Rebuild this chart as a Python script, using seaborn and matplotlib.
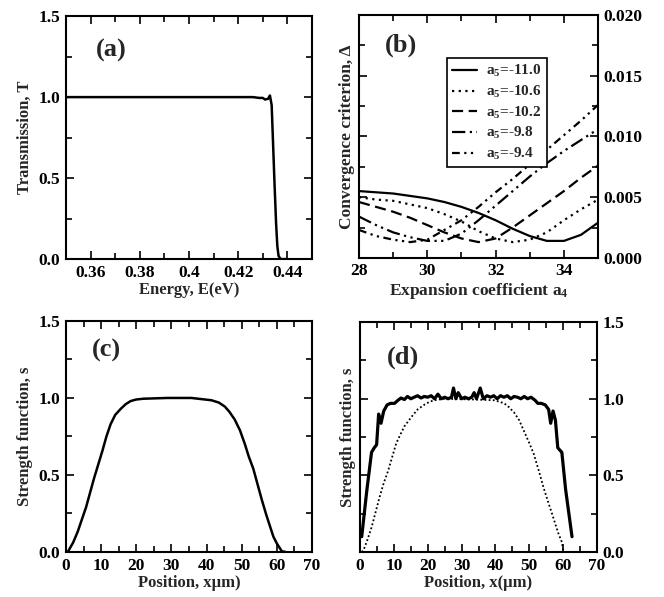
import matplotlib
matplotlib.use("Agg")
import matplotlib.pyplot as plt
from matplotlib.ticker import MultipleLocator, FuncFormatter
import seaborn as sns

# (a) transmission vs energy
energy_a = [0.350, 0.380, 0.410, 0.420, 0.426, 0.4285, 0.4300, 0.4309, 0.4322, 0.4329,
            0.4336, 0.4342, 0.4348, 0.4354, 0.4359, 0.4364, 0.4372, 0.4400]
trans_a = [1.0, 1.0, 1.0, 1.0, 1.0, 0.995, 0.995, 0.985, 0.99, 1.01,
           0.95, 0.70, 0.45, 0.22, 0.08, 0.02, 0.0, 0.0]

# (b) convergence criterion vs expansion coefficient a4
a4_b = [28, 28.5, 29, 29.5, 30, 30.5, 31, 31.5, 32, 32.5, 33, 33.5, 34, 34.5, 35]
delta_m110 = [0.0055, 0.0054, 0.0053, 0.0051, 0.0049, 0.0046, 0.0042, 0.0037, 0.0031,
              0.0024, 0.0018, 0.0014, 0.0014, 0.0019, 0.0029]
delta_m106 = [0.0050, 0.0048, 0.0047, 0.0044, 0.0041, 0.0036, 0.0030, 0.0022, 0.0016,
              0.0013, 0.0015, 0.0021, 0.0031, 0.0040, 0.0048]
delta_m102 = [0.0046, 0.0042, 0.0038, 0.0033, 0.0027, 0.0021, 0.0016, 0.0013, 0.0016,
              0.0025, 0.0035, 0.0045, 0.0055, 0.0066, 0.0076]
delta_m98 = [0.0034, 0.0027, 0.0021, 0.0017, 0.0014, 0.0014, 0.0020, 0.0031, 0.0043,
             0.0055, 0.0067, 0.0078, 0.0088, 0.0097, 0.0106]
delta_m94 = [0.0023, 0.0018, 0.0015, 0.0013, 0.0015, 0.0023, 0.0031, 0.0042, 0.0054,
             0.0065, 0.0077, 0.0089, 0.0101, 0.0113, 0.0126]
labels_b = ["a$_5$=-11.0", "a$_5$=-10.6", "a$_5$=-10.2", "a$_5$=-9.8", "a$_5$=-9.4"]

# (c) strength function
pos_c = [0.5, 1, 2, 3.3, 5.7, 8, 10.4, 11.5, 12.7, 14, 15.6, 17, 18.4, 20, 22, 28.8,
         35.7, 41.4, 43.5, 45.2, 46.5, 48, 49.5, 50.9, 52, 53.3, 54.5, 55.7, 57, 58, 59,
         60, 61.4, 62.5]
s_c = [0.0, 0.02, 0.06, 0.13, 0.29, 0.48, 0.66, 0.75, 0.83, 0.89, 0.93, 0.96, 0.98,
       0.99, 0.995, 1.0, 1.0, 0.985, 0.97, 0.944, 0.91, 0.86, 0.79, 0.70, 0.62, 0.54,
       0.44, 0.34, 0.24, 0.17, 0.10, 0.055, 0.005, 0.0]

# (d) strength function, reconstructed (solid) and original (dotted)
pos_d = [0.5, 2.0, 3.4, 4.2, 4.9, 5.5, 6.2, 7.0, 8.0, 9.0, 10.2, 11.2, 12.1, 13.1, 14.0,
         15.0, 16.0, 17.0, 18.0, 19.0, 20.0, 21.0, 22.0, 23.0, 24.0, 25.0, 26.0, 27.0,
         27.6, 28.3, 29.0, 30.0, 31.0, 32.0, 33.0, 33.7, 34.4, 35.5, 36.4, 37.5, 38.5,
         39.5, 40.5, 41.5, 42.5, 43.5, 44.5, 45.5, 46.5, 47.5, 48.5, 49.5, 50.5, 51.7,
         52.5, 53.5, 54.7, 55.7, 56.3, 57.0, 57.7, 58.4, 59.6, 60.7, 62.6]
s_d = [0.1, 0.4, 0.65, 0.68, 0.7, 0.9, 0.84, 0.92, 0.96, 0.97, 0.97, 0.99, 1.005, 0.995,
       1.015, 1.0, 1.01, 1.02, 1.005, 1.015, 1.01, 1.02, 1.0, 1.03, 1.0, 1.01, 1.0, 1.01,
       1.07, 1.0, 1.04, 1.0, 1.01, 1.0, 1.01, 1.04, 1.0, 1.07, 1.0, 1.02, 1.01,
       1.02, 1.0, 1.02, 1.01, 1.02, 1.0, 1.015, 1.01, 1.0, 1.015, 1.0, 1.01, 0.99,
       0.97, 0.97, 0.96, 0.93, 0.84, 0.92, 0.86, 0.68, 0.65, 0.41, 0.1]
pos_d0 = [0.5, 1, 2.2, 3.4, 5.8, 7, 8.3, 10.7, 12, 13.1, 15.5, 17, 18.9, 20.5, 21.8, 24.8,
          34, 39.8, 42.6, 44, 45.5, 47, 48.4, 50, 51.3, 52.8, 54.2, 55.5, 56.7, 57.7,
          58.6, 59.6, 60]
s_d0 = [0.0, 0.01, 0.08, 0.16, 0.36, 0.45, 0.53, 0.71, 0.77, 0.82, 0.89, 0.93, 0.96,
        0.98, 0.99, 1.0, 0.995, 0.99, 0.97, 0.945, 0.91, 0.86, 0.79, 0.71, 0.64, 0.53,
        0.42, 0.33, 0.25, 0.18, 0.12, 0.065, 0.01]

sns.set_style("ticks")
plt.rcParams["font.family"] = ["Liberation Serif", "DejaVu Serif"]
plt.rcParams["font.weight"] = "bold"
plt.rcParams["axes.labelweight"] = "bold"
plt.rcParams["mathtext.fontset"] = "custom"
plt.rcParams["mathtext.rm"] = "Liberation Serif:bold"
plt.rcParams["mathtext.it"] = "Liberation Serif:bold"
plt.rcParams["mathtext.bf"] = "Liberation Serif:bold"
plt.rcParams["mathtext.default"] = "rm"
plt.rcParams["axes.linewidth"] = 1.5
plt.rcParams["axes.edgecolor"] = "black"

FS = 12
TFS = 12.5

fig = plt.figure(figsize=(6.64, 5.97), dpi=100)
ax_a = fig.add_axes([0.0994, 0.566, 0.3705, 0.407])
ax_b = fig.add_axes([0.5407, 0.568, 0.360, 0.407])
ax_c = fig.add_axes([0.0994, 0.0754, 0.3705, 0.387])
ax_d = fig.add_axes([0.5422, 0.0754, 0.357, 0.385])


def style(ax, xmaj, xmin, ymaj, ymin):
    ax.xaxis.set_major_locator(MultipleLocator(xmaj))
    ax.xaxis.set_minor_locator(MultipleLocator(xmin))
    ax.yaxis.set_major_locator(MultipleLocator(ymaj))
    ax.yaxis.set_minor_locator(MultipleLocator(ymin))
    ax.tick_params(which="both", direction="in", top=True, right=True, width=1.2,
                   labelsize=TFS, colors="black", pad=4)
    ax.tick_params(which="major", length=6)
    ax.tick_params(which="minor", length=4)
    for sp in ax.spines.values():
        sp.set_visible(True)
        sp.set_linewidth(1.5)


# (a)
sns.lineplot(x=energy_a, y=trans_a, ax=ax_a, color="black", lw=1.8, estimator=None)
ax_a.set_xlim(0.35, 0.45)
ax_a.set_ylim(0, 1.5)
style(ax_a, 0.02, 0.01, 0.5, 0.25)
ax_a.xaxis.set_major_formatter(FuncFormatter(lambda v, p: "%g" % round(v, 3)))
ax_a.yaxis.set_major_formatter(FuncFormatter(lambda v, p: "%.1f" % v))
ax_a.set_xlabel("Energy, E(eV)", fontsize=FS, labelpad=1)
ax_a.set_ylabel("Transmission, T", fontsize=FS)
ax_a.text(0.12, 0.86, "(a)", transform=ax_a.transAxes, fontsize=19,
          fontweight="bold", va="center")

# (b)
styles_b = ["-", (0, (1, 2)), (0, (5, 2.5)), (0, (6, 2, 1, 2, 1, 2)), (0, (3.5, 2, 1, 2, 1, 2))]
for d, ls, lab in zip([delta_m110, delta_m106, delta_m102, delta_m98, delta_m94],
                      styles_b, labels_b):
    sns.lineplot(x=a4_b, y=d, ax=ax_b, color="black", lw=1.6, linestyle=ls,
                 label=lab, estimator=None)
ax_b.set_xlim(28, 35)
ax_b.set_ylim(0, 0.02)
style(ax_b, 2, 1, 0.005, 0.0025)
ax_b.tick_params(axis="y", which="both", labelleft=False, labelright=True)
ax_b.yaxis.set_label_position("left")
ax_b.yaxis.set_major_formatter(FuncFormatter(lambda v, p: "%.3f" % v))
ax_b.set_xlabel("Expansion coefficient a$_4$", fontsize=FS + 0.5, labelpad=1)
ax_b.set_ylabel("Convergence criterion, \u0394", fontsize=FS + 0.5, labelpad=3)
ax_b.text(0.11, 0.875, "(b)", transform=ax_b.transAxes, fontsize=19,
          fontweight="bold", va="center")
leg = ax_b.legend(loc="upper left", bbox_to_anchor=(0.368, 0.823), frameon=True,
                  fancybox=False, edgecolor="black", framealpha=1, fontsize=11,
                  handlelength=1.6, handletextpad=0.6, labelspacing=0.3,
                  borderpad=0.35, borderaxespad=0)
leg.get_frame().set_linewidth(1.2)

# (c)
sns.lineplot(x=pos_c, y=s_c, ax=ax_c, color="black", lw=1.8, estimator=None)
ax_c.set_xlim(0, 70)
ax_c.set_ylim(0, 1.5)
style(ax_c, 10, 5, 0.5, 0.25)
ax_c.yaxis.set_major_formatter(FuncFormatter(lambda v, p: "%.1f" % v))
ax_c.set_xlabel("Position, x\u03bcm)", fontsize=FS, labelpad=1)
ax_c.set_ylabel("Strength function, s", fontsize=FS)
ax_c.text(0.105, 0.874, "(c)", transform=ax_c.transAxes, fontsize=19,
          fontweight="bold", va="center")

# (d)
sns.lineplot(x=pos_d0, y=s_d0, ax=ax_d, color="black", lw=1.3, linestyle=(0, (1, 1.3)),
             estimator=None)
sns.lineplot(x=pos_d, y=s_d, ax=ax_d, color="black", lw=2.3, estimator=None)
ax_d.set_xlim(0, 70)
ax_d.set_ylim(0, 1.5)
style(ax_d, 10, 5, 0.5, 0.25)
ax_d.tick_params(axis="y", which="both", labelleft=False, labelright=True)
ax_d.yaxis.set_label_position("left")
ax_d.yaxis.set_major_formatter(FuncFormatter(lambda v, p: "%.1f" % v))
ax_d.set_xlabel("Position, x(\u03bcm)", fontsize=FS, labelpad=1)
ax_d.set_ylabel("Strength function, s", fontsize=FS, labelpad=3)
ax_d.text(0.114, 0.848, "(d)", transform=ax_d.transAxes, fontsize=19,
          fontweight="bold", va="center")

fig.savefig("out.png", dpi=100)
